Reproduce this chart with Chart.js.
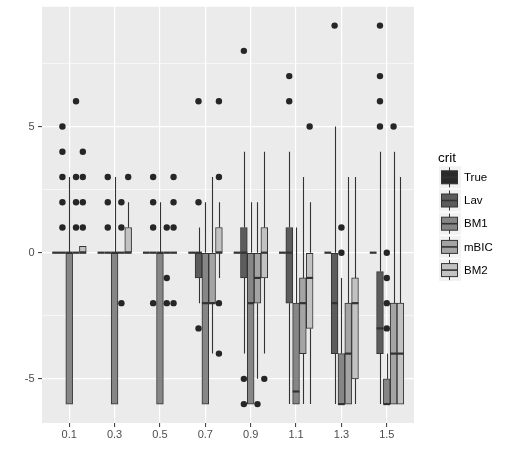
<!DOCTYPE html>
<html lang="en">
<head>
  <meta charset="UTF-8" />
  <title>crit boxplots</title>
  <script src="https://cdn.jsdelivr.net/npm/chart.js"></script>
  <style>
    body {
      margin: 0;
      background: #ffffff;
    }
    #wrap {
      width: 508px;
      height: 464px;
    }
  </style>
</head>
<body>
  <div id="wrap">
    <canvas id="boxChart" width="508" height="464"></canvas>
  </div>

  <script>
    // categories on the x axis and the five criteria
    const cats = ['0.1', '0.3', '0.5', '0.7', '0.9', '1.1', '1.3', '1.5'];
    const groups = ['True', 'Lav', 'BM1', 'mBIC', 'BM2'];
    const yMajor = [-5, 0, 5];
    const yMinor = [-2.5, 2.5, 7.5];

    // each entry: [lower whisker, q1, median, q3, upper whisker]
    const trueStats = [[0,0,0,0,0],[0,0,0,0,0],[0,0,0,0,0],[0,0,0,0,0],[0,0,0,0,0],[0,0,0,0,0],[0,0,0,0,0],[0,0,0,0,0]];
    const trueOut = [[],[],[],[],[],[],[],[]];

    const lavStats = [[0,0,0,0,0],[0,0,0,0,0],[0,0,0,0,0],[-2,-1,0,0,1],[-4,-1,0,1,4],[-6,-2,0,1,4],[-6,-4,-2,0,5],[-6,-4,-3,-0.75,4]];
    const lavOut = [[1,2,3,4,5],[1,2,3],[-2,1,2,3],[-3,2,6],[-6,-5,8],[6,7],[9],[5,6,7,9]];

    const bm1Stats = [[-6,-6,0,0,3],[-6,-6,0,0,3],[-6,-6,0,0,2],[-6,-6,-2,0,2],[-6,-6,-2,0,2],[-6,-6,-5.5,-2,1],[-6,-6,-6,-4,-1],[-6,-6,-6,-5,-4]];
    const bm1Out = [[],[],[],[],[],[],[0,1],[-3,-2,-1,0]];

    const mbicStats = [[0,0,0,0,0],[0,0,0,0,0],[0,0,0,0,0],[-4,-2,-2,0,3],[-5,-2,-1,0,2],[-6,-4,-2,-1,3],[-6,-6,-4,-2,3],[-6,-6,-4,-2,4]];
    const mbicOut = [[1,2,3,6],[-2,1,2],[-2,-1,1],[],[-6],[],[],[5]];

    const bm2Stats = [[0,0,0,0.25,0.25],[0,0,0,1,2],[0,0,0,0,0],[-1,0,0,1,2],[-4,-1,0,1,4],[-6,-3,-1,0,2],[-6,-5,-2,-1,3],[-6,-6,-4,-2,3]];
    const bm2Out = [[1,2,3,4],[3],[-2,1,2,3],[-4,-2,3,6],[-5],[5],[],[]];

    const allStats = [trueStats, lavStats, bm1Stats, mbicStats, bm2Stats];
    const allOut = [trueOut, lavOut, bm1Out, mbicOut, bm2Out];
    const fills = ['#2a2a2a', '#5c5c5c', '#868686', '#a4a4a4', '#c2c2c2'];

    const dodge = 0.15;
    const lineCol = '#333333';
    const fontFam = '"Liberation Sans", Arial, sans-serif';

    function xPos(i, g) {
      return i + (g - 2) * dodge;
    }

    const datasets = [];
    groups.forEach(function(name, g) {
      datasets.push({
        type: 'bar',
        label: name,
        groupIndex: g,
        data: allStats[g].map(function(s, i) { return { x: xPos(i, g), y: [s[1], s[3]] }; }),
        backgroundColor: fills[g],
        borderColor: lineCol,
        borderWidth: 1,
        borderSkipped: false,
        grouped: false,
        barPercentage: 1,
        categoryPercentage: 1,
        order: 2
      });
    });
    groups.forEach(function(name, g) {
      const pts = [];
      allOut[g].forEach(function(vals, i) {
        vals.forEach(function(v) { pts.push({ x: xPos(i, g), y: v }); });
      });
      datasets.push({
        type: 'scatter',
        label: name + ' outliers',
        data: pts,
        pointRadius: 3.2,
        pointHoverRadius: 3.2,
        backgroundColor: '#262626',
        borderWidth: 0,
        order: 1
      });
    });

    const boxPlugin = {
      id: 'boxPlugin',
      beforeDraw(chart) {
        const a = chart.chartArea;
        const ctx = chart.ctx;
        ctx.save();
        ctx.fillStyle = '#ebebeb';
        ctx.fillRect(a.left, a.top, a.right - a.left, a.bottom - a.top);
        ctx.restore();
      },
      beforeDatasetsDraw(chart) {
        const ctx = chart.ctx;
        const xs = chart.scales.x;
        const ys = chart.scales.y;
        ctx.save();
        ctx.strokeStyle = lineCol;
        ctx.lineWidth = 1.1;
        allStats.forEach(function(stats, g) {
          stats.forEach(function(s, i) {
            const px = Math.round(xs.getPixelForValue(xPos(i, g))) + 0.5;
            ctx.beginPath();
            ctx.moveTo(px, ys.getPixelForValue(s[3]));
            ctx.lineTo(px, ys.getPixelForValue(s[4]));
            ctx.moveTo(px, ys.getPixelForValue(s[1]));
            ctx.lineTo(px, ys.getPixelForValue(s[0]));
            ctx.stroke();
          });
        });
        ctx.restore();
      },
      afterDatasetDraw(chart, args) {
        const ds = chart.data.datasets[args.index];
        if (ds.type !== 'bar') return;
        const g = ds.groupIndex;
        const ctx = chart.ctx;
        const ys = chart.scales.y;
        const meta = chart.getDatasetMeta(args.index);
        ctx.save();
        ctx.strokeStyle = lineCol;
        ctx.lineWidth = 2.2;
        meta.data.forEach(function(bar, i) {
          const half = bar.width / 2;
          const py = ys.getPixelForValue(allStats[g][i][2]);
          ctx.beginPath();
          ctx.moveTo(bar.x - half, py);
          ctx.lineTo(bar.x + half, py);
          ctx.stroke();
        });
        ctx.restore();
      },
      afterDraw(chart) {
        const ctx = chart.ctx;
        ctx.save();
        ctx.fillStyle = '#000000';
        ctx.font = '13.5px ' + fontFam;
        ctx.textBaseline = 'alphabetic';
        ctx.fillText('crit', 438, 161.5);
        groups.forEach(function(name, g) {
          const cy = 177.3 + g * 23.2;
          ctx.fillStyle = '#f2f2f2';
          ctx.fillRect(439, cy - 11, 22, 22);
          ctx.strokeStyle = lineCol;
          ctx.lineWidth = 1;
          ctx.beginPath();
          ctx.moveTo(449.5, cy - 10);
          ctx.lineTo(449.5, cy + 10);
          ctx.stroke();
          ctx.fillStyle = fills[g];
          ctx.fillRect(441.5, cy - 6.5, 16, 13);
          ctx.strokeRect(441.5, cy - 6.5, 16, 13);
          ctx.lineWidth = 1.6;
          ctx.beginPath();
          ctx.moveTo(441.5, cy);
          ctx.lineTo(457.5, cy);
          ctx.stroke();
          ctx.fillStyle = '#000000';
          ctx.font = '11.5px ' + fontFam;
          ctx.textBaseline = 'middle';
          ctx.fillText(name, 464, cy + 0.5);
        });
        ctx.restore();
      }
    };

    new Chart(document.getElementById('boxChart').getContext('2d'), {
      type: 'bar',
      data: { datasets: datasets },
      plugins: [boxPlugin],
      options: {
        responsive: false,
        animation: false,
        layout: { padding: { top: 6.7, right: 94, bottom: 0, left: 0 } },
        plugins: {
          legend: { display: false },
          tooltip: { enabled: false }
        },
        scales: {
          x: {
            type: 'linear',
            min: -0.6,
            max: 7.6,
            offset: false,
            afterBuildTicks(scale) {
              scale.ticks = cats.map(function(c, i) { return { value: i }; });
            },
            afterFit(scale) {
              scale.height = 41;
              scale.paddingLeft = 0;
              scale.paddingRight = 0;
            },
            ticks: {
              color: '#4d4d4d',
              font: { family: fontFam, size: 11 },
              padding: 1.5,
              maxRotation: 0,
              autoSkip: false,
              callback: function(v) { return cats[v]; }
            },
            grid: {
              offset: false,
              color: '#ffffff',
              lineWidth: 1.2,
              drawTicks: true,
              tickLength: 4,
              tickColor: lineCol,
              tickWidth: 1
            },
            border: { display: false }
          },
          y: {
            type: 'linear',
            min: -6.75,
            max: 9.75,
            afterBuildTicks(scale) {
              scale.ticks = yMajor.concat(yMinor).sort(function(a, b) { return a - b; })
                .map(function(v) { return { value: v }; });
            },
            afterFit(scale) {
              scale.width = 42;
              scale.paddingTop = 0;
              scale.paddingBottom = 0;
            },
            ticks: {
              color: '#4d4d4d',
              font: { family: fontFam, size: 11 },
              padding: 3.5,
              autoSkip: false,
              callback: function(v) { return yMajor.includes(v) ? String(v) : ''; }
            },
            grid: {
              color: '#ffffff',
              lineWidth: function(c) { return yMajor.includes(c.tick.value) ? 1.2 : 0.6; },
              drawTicks: true,
              tickLength: 4,
              tickColor: function(c) { return yMajor.includes(c.tick.value) ? lineCol : 'rgba(0,0,0,0)'; },
              tickWidth: 1
            },
            border: { display: false }
          }
        }
      }
    });
  </script>
</body>
</html>
